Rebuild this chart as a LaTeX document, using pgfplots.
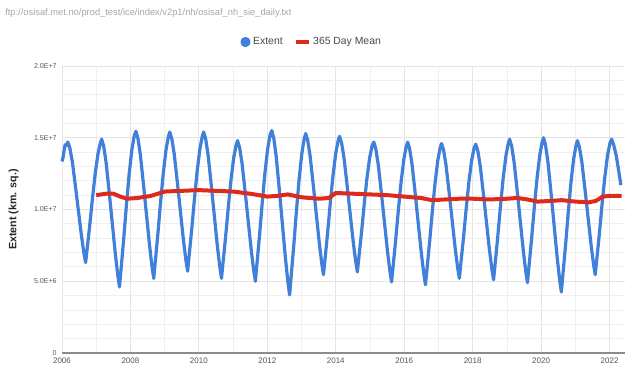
\documentclass[border=0pt]{standalone}
\usepackage{pgfplots}
\pgfplotsset{compat=1.18}
\usepackage{fontspec}
\setmainfont{Liberation Sans}
\definecolor{extblue}{HTML}{4180DA}
\definecolor{meanred}{HTML}{DC2A1C}
\definecolor{gridc}{HTML}{E4E4E4}
\definecolor{mgridc}{HTML}{EFEFEF}
\definecolor{tickc}{HTML}{555555}
\begin{document}
\begin{tikzpicture}
\begin{axis}[
  at={(0pt,0pt)}, anchor=south west,
  scale only axis, width=422.25pt, height=215.25pt,
  xmin=2006, xmax=2022.45, ymin=0, ymax=20,
  xtick={2006,2008,...,2022},
  xticklabels={2006,2008,2010,2012,2014,2016,2018,2020,2022},
  minor x tick num=1,
  ytick={0,5,10,15,20},
  yticklabels={0,5.0E+6,1.0E+7,1.5E+7,2.0E+7},
  minor y tick num=4,
  grid=both,
  major grid style={draw=gridc, line width=0.6pt},
  minor grid style={draw=mgridc, line width=0.6pt},
  axis x line*=bottom,
  axis y line*=left,
  x axis line style={draw=black!45, line width=0.8pt, -},
  y axis line style={draw=none},
  tick style={draw=none},
  xticklabel style={font=\fontsize{6}{7}\selectfont, text=tickc},
  yticklabel style={font=\fontsize{5.3}{6}\selectfont, text=tickc, xshift=-0.5pt},
  ylabel={\textbf{Extent (km. sq.)}},
  ylabel style={at={(axis description cs:-0.086,0.5)}, anchor=center, font=\fontsize{8}{9}\selectfont, text=black!85},
  legend columns=2,
  legend style={at={(0.444,1.0)}, anchor=center, yshift=18pt, draw=none, fill=none,
     font=\fontsize{7.8}{9}\selectfont, text=black!72,
     /tikz/every even column/.style={column sep=7pt}},
  clip=false,
]
\addplot[extblue, line width=2.4pt, line join=round,
  legend image code/.code={\fill[extblue] (0.25em,0) circle (2.6pt);}] coordinates {
(2006.00,13.35)(2006.03,13.6)(2006.06,14.1)(2006.09,14.5)(2006.12,14.45)(2006.17,14.7)
(2006.23,14.28)(2006.30,13.36)(2006.39,11.68)(2006.48,9.91)(2006.57,8.15)(2006.64,6.97)(2006.69,6.3)
(2006.73,7.16)(2006.81,8.88)(2006.89,10.77)(2006.97,12.49)(2007.05,13.87)(2007.12,14.64)(2007.16,14.9)
(2007.22,14.39)(2007.29,13.25)(2007.38,11.19)(2007.47,9.03)(2007.56,6.87)(2007.63,5.42)(2007.68,4.6)
(2007.72,5.69)(2007.80,7.86)(2007.88,10.24)(2007.96,12.41)(2008.04,14.15)(2008.11,15.12)(2008.16,15.45)
(2008.22,14.94)(2008.29,13.81)(2008.38,11.76)(2008.47,9.61)(2008.56,7.46)(2008.63,6.02)(2008.68,5.2)
(2008.72,6.22)(2008.80,8.26)(2008.88,10.50)(2008.96,12.54)(2009.04,14.18)(2009.11,15.09)(2009.15,15.4)
(2009.21,14.92)(2009.28,13.85)(2009.37,11.91)(2009.46,9.87)(2009.55,7.83)(2009.62,6.48)(2009.67,5.7)
(2009.71,6.67)(2009.79,8.61)(2009.87,10.74)(2009.95,12.68)(2010.03,14.24)(2010.10,15.11)(2010.14,15.4)
(2010.20,14.89)(2010.27,13.77)(2010.36,11.73)(2010.45,9.59)(2010.54,7.44)(2010.61,6.02)(2010.66,5.2)
(2010.70,6.16)(2010.78,8.08)(2010.86,10.19)(2010.94,12.11)(2011.02,13.65)(2011.09,14.51)(2011.13,14.8)
(2011.19,14.31)(2011.26,13.23)(2011.35,11.27)(2011.44,9.21)(2011.53,7.16)(2011.60,5.78)(2011.65,5.0)
(2011.69,6.05)(2011.77,8.15)(2011.85,10.46)(2011.93,12.56)(2012.01,14.24)(2012.08,15.19)(2012.13,15.5)
(2012.19,14.93)(2012.26,13.67)(2012.35,11.38)(2012.44,8.97)(2012.53,6.57)(2012.60,4.97)(2012.65,4.05)
(2012.69,5.18)(2012.77,7.43)(2012.85,9.90)(2012.93,12.15)(2013.01,13.95)(2013.08,14.96)(2013.12,15.3)
(2013.18,14.81)(2013.25,13.72)(2013.34,11.75)(2013.43,9.69)(2013.52,7.62)(2013.59,6.24)(2013.64,5.45)
(2013.68,6.42)(2013.76,8.35)(2013.84,10.47)(2013.92,12.40)(2014.00,13.94)(2014.07,14.81)(2014.11,15.1)
(2014.17,14.63)(2014.24,13.59)(2014.33,11.70)(2014.42,9.71)(2014.51,7.73)(2014.58,6.41)(2014.63,5.65)
(2014.67,6.56)(2014.75,8.37)(2014.83,10.36)(2014.91,12.17)(2014.99,13.61)(2015.06,14.43)(2015.11,14.7)
(2015.17,14.21)(2015.24,13.14)(2015.33,11.19)(2015.42,9.14)(2015.51,7.10)(2015.58,5.73)(2015.63,4.95)
(2015.67,5.93)(2015.75,7.88)(2015.83,10.02)(2015.91,11.97)(2015.99,13.53)(2016.06,14.41)(2016.10,14.7)
(2016.16,14.20)(2016.23,13.11)(2016.32,11.12)(2016.41,9.03)(2016.50,6.94)(2016.57,5.55)(2016.62,4.75)
(2016.66,5.74)(2016.74,7.71)(2016.82,9.87)(2016.90,11.84)(2016.98,13.42)(2017.05,14.30)(2017.09,14.6)
(2017.15,14.13)(2017.22,13.10)(2017.31,11.22)(2017.40,9.24)(2017.49,7.27)(2017.56,5.95)(2017.61,5.2)
(2017.65,6.14)(2017.73,8.01)(2017.81,10.06)(2017.89,11.93)(2017.97,13.43)(2018.04,14.27)(2018.09,14.55)
(2018.15,14.08)(2018.22,13.04)(2018.31,11.15)(2018.40,9.16)(2018.49,7.18)(2018.56,5.86)(2018.61,5.1)
(2018.65,6.08)(2018.73,8.04)(2018.81,10.20)(2018.89,12.16)(2018.97,13.72)(2019.04,14.61)(2019.08,14.9)
(2019.14,14.4)(2019.21,13.3)(2019.30,11.3)(2019.39,9.2)(2019.48,7.1)(2019.55,5.7)(2019.60,4.9)
(2019.64,5.91)(2019.72,7.93)(2019.80,10.15)(2019.88,12.17)(2019.96,13.79)(2020.03,14.70)(2020.07,15.0)
(2020.13,14.46)(2020.20,13.28)(2020.29,11.13)(2020.38,8.87)(2020.47,6.62)(2020.54,5.11)(2020.59,4.25)
(2020.63,5.31)(2020.71,7.42)(2020.79,9.74)(2020.87,11.85)(2020.95,13.53)(2021.02,14.48)(2021.06,14.8)
(2021.12,14.33)(2021.19,13.30)(2021.28,11.43)(2021.37,9.47)(2021.46,7.51)(2021.53,6.20)(2021.58,5.45)
(2021.62,6.40)(2021.70,8.29)(2021.78,10.36)(2021.86,12.25)(2021.94,13.77)(2022.01,14.62)(2022.06,14.9)
(2022.12,14.5)(2022.19,13.8)(2022.26,12.8)(2022.33,11.7)
};
\addlegendentry{Extent}
\addplot[meanred, line width=3pt, line join=round,
  legend image code/.code={\draw[meanred, line width=2.4pt] (-0.1em,0)--(0.85em,0);}] coordinates {
(2007.0,11.0)(2007.3,11.1)(2007.5,11.1)(2007.7,10.9)(2007.9,10.75)(2008.2,10.8)(2008.6,10.95)
(2009.0,11.25)(2009.5,11.3)(2010.0,11.35)(2010.5,11.3)(2011.0,11.25)(2011.5,11.1)(2012.0,10.9)
(2012.3,10.95)(2012.6,11.05)(2013.0,10.85)(2013.5,10.75)(2013.8,10.8)(2014.0,11.15)(2014.5,11.1)
(2015.0,11.05)(2015.5,11.0)(2016.0,10.9)(2016.5,10.8)(2016.8,10.65)(2017.2,10.7)(2017.6,10.75)
(2018.0,10.75)(2018.5,10.7)(2019.0,10.75)(2019.3,10.8)(2019.6,10.7)(2019.9,10.55)(2020.3,10.6)
(2020.6,10.65)(2021.0,10.55)(2021.4,10.5)(2021.6,10.6)(2021.8,10.9)(2022.0,10.95)(2022.35,10.95)
};
\addlegendentry{365 Day Mean}
\end{axis}
\node[anchor=west, inner sep=0pt, font=\fontsize{7}{8}\selectfont, text=black!35] at (-42.75pt,255pt)
  {ftp://osisaf.met.no/prod\_test/ice/index/v2p1/nh/osisaf\_nh\_sie\_daily.txt};
\pgfresetboundingbox
\path[use as bounding box] (-46.5pt,-21pt) rectangle (433.5pt,264.75pt);
\end{tikzpicture}
\end{document}
